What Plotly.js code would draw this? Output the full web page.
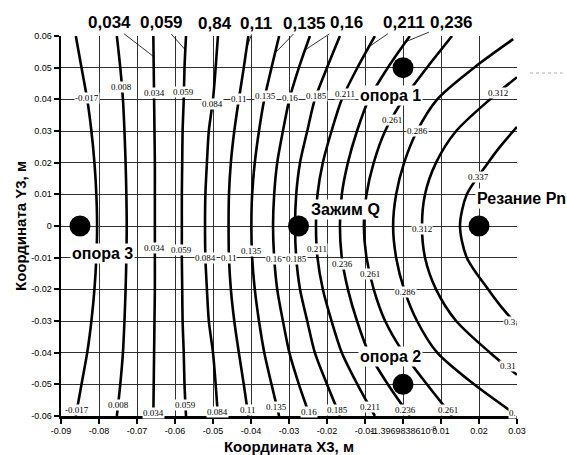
<!DOCTYPE html>
<html><head><meta charset="utf-8">
<script src="https://cdn.plot.ly/plotly-3.0.1.min.js"></script>
<style>html,body{margin:0;padding:0;background:#fff}#chart{width:567px;height:455px}</style>
</head><body><div id="chart"></div>
<script>
// ---- data ----
const yRows = [-0.06,-0.05,-0.04,-0.03,-0.02,-0.01,0,0.01,0.02,0.03,0.04,0.05,0.06];
const levelText = ["-0.017","0.008","0.034","0.059","0.084","0.11","0.135","0.16","0.185","0.211","0.236","0.261","0.286","0.312","0.337"];

const xLevel_m017 = [-0.0861,-0.0846,-0.0831,-0.0820,-0.0812,-0.0807,-0.0805,-0.0807,-0.0812,-0.0820,-0.0831,-0.0846,-0.0861];
const xLevel_008  = [-0.0753,-0.0744,-0.0737,-0.0733,-0.0730,-0.0728,-0.0727,-0.0728,-0.0730,-0.0733,-0.0737,-0.0744,-0.0753];
const xLevel_034  = [-0.0657,-0.0656,-0.0655,-0.0654,-0.0653,-0.0653,-0.0653,-0.0653,-0.0653,-0.0654,-0.0655,-0.0656,-0.0657];
const xLevel_059  = [-0.0571,-0.0575,-0.0577,-0.0580,-0.0581,-0.0582,-0.0582,-0.0582,-0.0581,-0.0580,-0.0577,-0.0575,-0.0571];
const xLevel_084  = [-0.0487,-0.0493,-0.0500,-0.0511,-0.0516,-0.0520,-0.0521,-0.0520,-0.0516,-0.0511,-0.0500,-0.0493,-0.0487];
const xLevel_110  = [-0.0407,-0.0419,-0.0432,-0.0444,-0.0453,-0.0458,-0.0459,-0.0458,-0.0453,-0.0444,-0.0432,-0.0419,-0.0407];
const xLevel_135  = [-0.0326,-0.0346,-0.0365,-0.0379,-0.0390,-0.0397,-0.0399,-0.0397,-0.0390,-0.0379,-0.0365,-0.0346,-0.0326];
const xLevel_160  = [-0.0245,-0.0274,-0.0299,-0.0316,-0.0331,-0.0339,-0.0342,-0.0339,-0.0331,-0.0316,-0.0299,-0.0274,-0.0245];
const xLevel_185  = [-0.0166,-0.0200,-0.0232,-0.0252,-0.0271,-0.0281,-0.0284,-0.0281,-0.0271,-0.0252,-0.0232,-0.0200,-0.0166];
const xLevel_211  = [-0.0074,-0.0120,-0.0161,-0.0188,-0.0211,-0.0225,-0.0229,-0.0225,-0.0211,-0.0188,-0.0161,-0.0120,-0.0074];
const xLevel_236  = [0.0018,-0.0040,-0.0090,-0.0121,-0.0145,-0.0161,-0.0166,-0.0161,-0.0145,-0.0121,-0.0090,-0.0040,0.0018];
const xLevel_261  = [0.0129,0.0063,0.0001,-0.0047,-0.0077,-0.0096,-0.0103,-0.0096,-0.0077,-0.0047,0.0001,0.0063,0.0129];
const yLevel_286  = [-0.059,-0.05,-0.04,-0.03,-0.02,-0.01,0,0.01,0.02,0.03,0.04,0.05,0.059];
const xLevel_286  = [0.0290,0.0187,0.0090,0.0037,0.0003,-0.0018,-0.0026,-0.0018,0.0003,0.0037,0.0090,0.0187,0.0290];
const yLevel_312  = [-0.047,-0.04,-0.03,-0.02,-0.01,0,0.01,0.02,0.03,0.04,0.047];
const xLevel_312  = [0.0300,0.0229,0.0140,0.0087,0.0058,0.0050,0.0058,0.0087,0.0140,0.0229,0.0300];
const yLevel_337  = [-0.0313,-0.025,-0.02,-0.01,0,0.01,0.02,0.025,0.0313];
const xLevel_337  = [0.0300,0.0255,0.0224,0.0168,0.0150,0.0168,0.0224,0.0255,0.0300];

// supports / force points
const pointNames = ["опора 3","Зажим Q","Резание Pn","опора 1","опора 2"];
const pointX = [-0.085,-0.0275,0.02,0.0,0.0];
const pointY = [0,0,0,0.05,-0.05];

// axis ticks
const xTickVals = [-0.09,-0.08,-0.07,-0.06,-0.05,-0.04,-0.03,-0.02,-0.01,0,0.01,0.02,0.03];
const xTickText = ["-0.09","-0.08","-0.07","-0.06","-0.05","-0.04","-0.03","-0.02","-0.01","-1.3969838610<sup>-9</sup>","0.01","0.02","0.03"];
const yTickVals = [-0.06,-0.05,-0.04,-0.03,-0.02,-0.01,0,0.01,0.02,0.03,0.04,0.05,0.06];
const yTickText = ["-0.06","-0.05","-0.04","-0.03","-0.02","-0.01","0","0.01","0.02","0.03","0.04","0.05","0.06"];

// big callout texts above the plot (as written in the original)
const calloutText = ["0,034","0,059","0,84","0,11","0,135","0,16","0,211","0,236"];
const calloutLevel = [2,3,4,5,6,7,9,10];

// ---- assembly ----
const contours = [
  {x:xLevel_m017,y:yRows},{x:xLevel_008,y:yRows},{x:xLevel_034,y:yRows},{x:xLevel_059,y:yRows},
  {x:xLevel_084,y:yRows},{x:xLevel_110,y:yRows},{x:xLevel_135,y:yRows},{x:xLevel_160,y:yRows},
  {x:xLevel_185,y:yRows},{x:xLevel_211,y:yRows},{x:xLevel_236,y:yRows},{x:xLevel_261,y:yRows},
  {x:xLevel_286,y:yLevel_286},{x:xLevel_312,y:yLevel_312},{x:xLevel_337,y:yLevel_337}
];
function xAt(c, yv){
  const ys=c.y, xs=c.x;
  if (yv<=ys[0]) return xs[0];
  for (let i=1;i<ys.length;i++){
    if (yv<=ys[i]){ const t=(yv-ys[i-1])/(ys[i]-ys[i-1]); return xs[i-1]+t*(xs[i]-xs[i-1]); }
  }
  return xs[xs.length-1];
}

const traces = contours.map((c,i)=>({
  type:'scatter', mode:'lines', x:c.x, y:c.y, name:levelText[i],
  line:{color:'#000', width:2.6, shape:'spline', smoothing:0.8},
  hoverinfo:'skip', showlegend:false
}));
traces.push({type:'scatter', mode:'markers', x:pointX, y:pointY, text:pointNames,
  marker:{color:'#000', size:21}, showlegend:false, hoverinfo:'text', cliponaxis:false});

// label placement (where along each contour its inline value label sits)
const upperLabelY  = [0.0404,0.0438,0.042,0.0422,0.0385,0.0402,0.0411,0.0404,0.041,0.0418,null,0.0335,0.030,0.042,0.0155];
const lowerLabelY  = [null,null,-0.0069,-0.0076,-0.0100,-0.0100,-0.0079,-0.0103,-0.0103,-0.0074,-0.0119,-0.0151,-0.0208,-0.001,null];
const bottomLabelY = [-0.058,-0.0564,-0.059,-0.0566,-0.0588,-0.0582,-0.057,-0.0588,-0.0582,-0.0572,-0.058,-0.0582,null,null,null];

const ann = [];
const lblFont = {family:'Liberation Serif, Times New Roman, serif', size:9, color:'#000'};
[upperLabelY, lowerLabelY, bottomLabelY].forEach(arr=>{
  arr.forEach((yv,i)=>{
    if (yv===null) return;
    ann.push({x:xAt(contours[i],yv), y:yv, xref:'x', yref:'y', text:levelText[i], showarrow:false,
      font:lblFont, bgcolor:'#fff', borderpad:0});
  });
});
// labels cut by the right edge of the plot
[[14,-0.0303,"0.3"],[13,-0.0443,"0.31"],[12,-0.059,"0."]].forEach(([i,yv,t])=>{
  ann.push({x:0.03, y:yv, xref:'x', yref:'y', xanchor:'right', text:t, showarrow:false,
    font:lblFont, bgcolor:'#fff', borderpad:0});
});

// callouts with leader lines
const calloutTipY = [0.0535,0.0556,0.06,0.0561,0.0546,0.0556,0.0566,0.0582];
const calloutAX = [-44,-24,-3,9,29,41,35,46];
const calloutAY = [-34,-27,-13,-25,-30,-27,-24,-19];
calloutText.forEach((t,k)=>{
  const c = contours[calloutLevel[k]];
  const tipY = calloutTipY[k];
  const a = {x:xAt(c,tipY), y:tipY, xref:'x', yref:'y', text:t,
    font:{family:'Liberation Sans, Arial, sans-serif', size:17, color:'#000', weight:'bold'},
    showarrow:true, arrowhead:0, arrowwidth:0.8, arrowcolor:'#000', ax:calloutAX[k], ay:calloutAY[k], standoff:0};
  if (t==="0,84"){ a.showarrow=false; a.xshift=calloutAX[k]; a.yshift=-calloutAY[k]; }
  ann.push(a);
});

// point labels
const pointShiftX = [22,47,42,-13,-13];
const pointShiftY = [-27,17,28,-28,28];
pointNames.forEach((t,k)=>{
  ann.push({x:pointX[k], y:pointY[k], xref:'x', yref:'y', text:t, showarrow:false,
    xshift:pointShiftX[k], yshift:pointShiftY[k], bgcolor:'#fff', borderpad:1,
    font:{family:'Liberation Sans, Arial, sans-serif', size:16, color:'#000', weight:'bold'}});
});

const layout = {
  width:567, height:455,
  margin:{l:61, r:50, t:36, b:39},
  paper_bgcolor:'#fff', plot_bgcolor:'#fff',
  showlegend:false,
  xaxis:{range:[-0.09,0.03], tickvals:xTickVals, ticktext:xTickText, tickangle:0, automargin:false,
    showgrid:true, gridcolor:'#303030', gridwidth:1, zeroline:false,
    showline:true, linecolor:'#000', linewidth:2.5, ticks:'outside', ticklen:5, tickwidth:2, tickcolor:'#000',
    tickfont:{family:'Liberation Sans, Arial, sans-serif', size:9, color:'#000'},
    title:{text:'Координата X3, м', standoff:6, font:{family:'Liberation Sans, Arial, sans-serif', size:15, color:'#000', weight:'bold'}}},
  yaxis:{range:[-0.06,0.06], tickvals:yTickVals, ticktext:yTickText, automargin:false,
    showgrid:true, gridcolor:'#303030', gridwidth:1, zeroline:false,
    showline:true, linecolor:'#000', linewidth:2.5, ticks:'outside', ticklen:5, tickwidth:2, tickcolor:'#000',
    tickfont:{family:'Liberation Sans, Arial, sans-serif', size:9, color:'#000'},
    title:{text:'Координата Y3, м', standoff:1, font:{family:'Liberation Sans, Arial, sans-serif', size:15, color:'#000', weight:'bold'}}},
  annotations:ann,
  shapes:[{type:'line', xref:'paper', yref:'paper', x0:1.0285, x1:1.10, y0:0.9026, y1:0.9026,
    line:{color:'#b0b0b0', width:1, dash:'dot'}}]
};
Plotly.newPlot('chart', traces, layout, {staticPlot:true, displayModeBar:false});
</script>
</body></html>
